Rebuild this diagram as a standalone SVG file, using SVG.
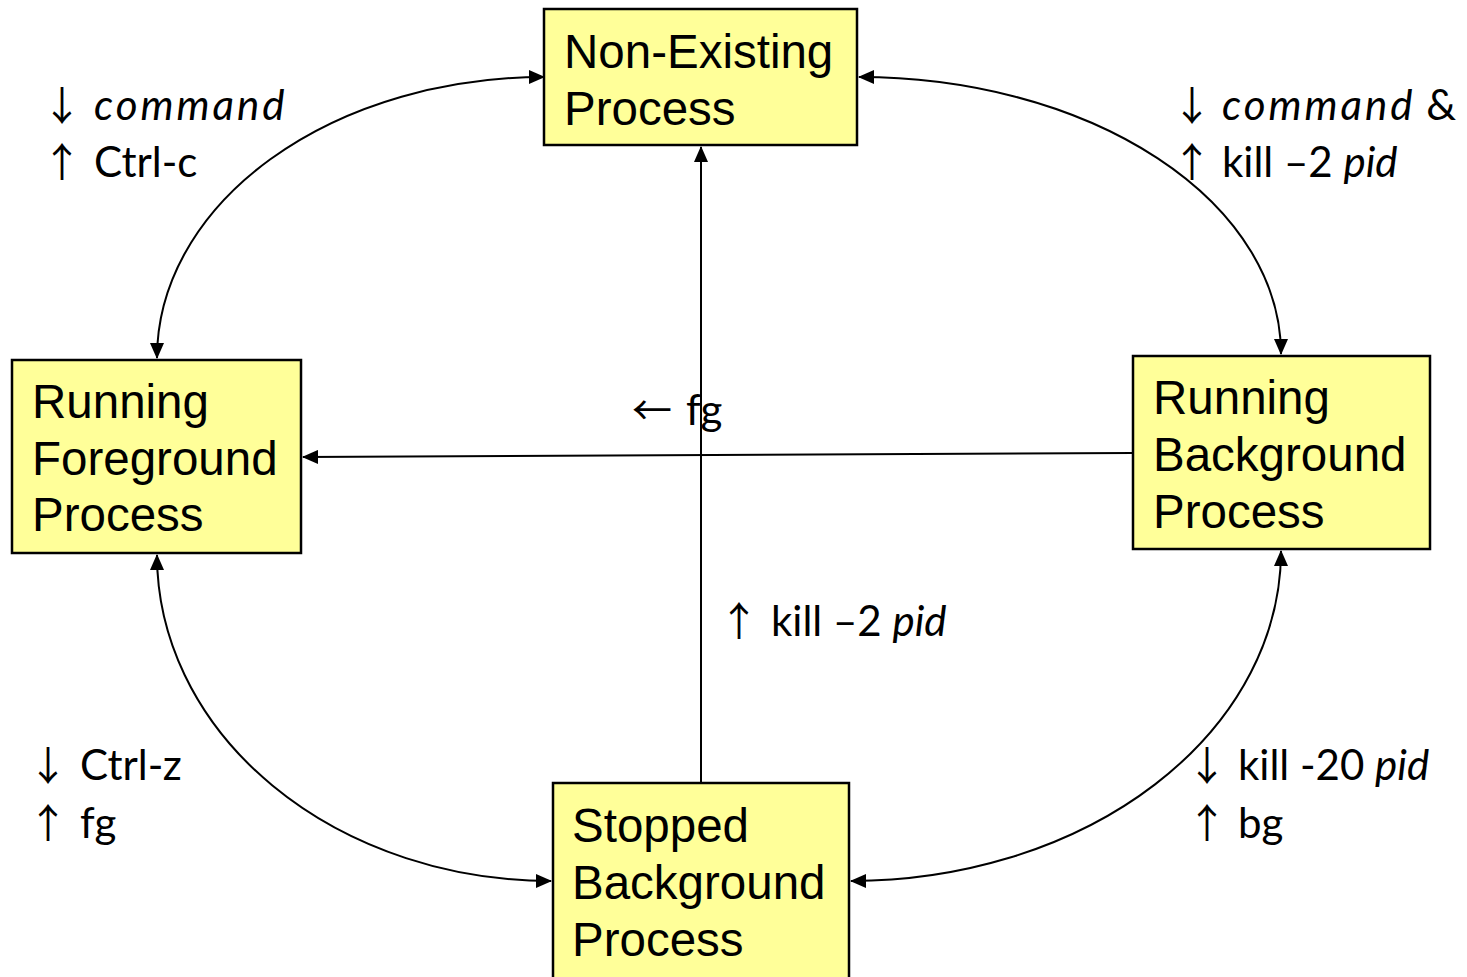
<svg xmlns="http://www.w3.org/2000/svg" width="1467" height="977" viewBox="0 0 1467 977">
<style>
.box{fill:#FFFF99;stroke:#000;stroke-width:2.5}
.bt{font-family:"Liberation Sans",Arial,sans-serif;font-size:47.5px;fill:#000}
.lb{font-family:Lato,"Open Sans",sans-serif;font-size:42px;fill:#000}
.ar{font-family:"Noto Sans CJK SC","DejaVu Sans",sans-serif;font-size:40px}
.it{font-style:italic}
.cm{letter-spacing:3px}
.con{fill:none;stroke:#000;stroke-width:2}
</style>
<defs>
<marker id="ah" markerUnits="userSpaceOnUse" markerWidth="16" markerHeight="14" refX="15" refY="7" orient="auto-start-reverse">
<path d="M0,0 L16,7 L0,14 Z" fill="#000"/>
</marker>
</defs>
<rect width="1467" height="977" fill="#fff"/>
<g id="connectors">
<path class="con" d="M544,77 A387,281 0 0 0 157,358" marker-start="url(#ah)" marker-end="url(#ah)"/>
<path class="con" d="M859,77 A422,277 0 0 1 1281,354" marker-start="url(#ah)" marker-end="url(#ah)"/>
<path class="con" d="M157,555 A394,326 0 0 0 551,881" marker-start="url(#ah)" marker-end="url(#ah)"/>
<path class="con" d="M1281,551 A430,330 0 0 1 851,881" marker-start="url(#ah)" marker-end="url(#ah)"/>
<path class="con" d="M701,783 L701,147" marker-end="url(#ah)"/>
<path class="con" d="M1133,453 L303,457" marker-end="url(#ah)"/>
</g>
<g id="non-existing">
<rect class="box" x="544" y="9" width="313" height="136"/>
<text class="bt" x="564" y="68">Non-Existing</text>
<text class="bt" x="564" y="125">Process</text>
</g>
<g id="running-foreground">
<rect class="box" x="12" y="360" width="289" height="193"/>
<text class="bt" x="32" y="418">Running</text>
<text class="bt" x="32" y="475">Foreground</text>
<text class="bt" x="32" y="531">Process</text>
</g>
<g id="running-background">
<rect class="box" x="1133" y="356" width="297" height="193"/>
<text class="bt" x="1153" y="414">Running</text>
<text class="bt" x="1153" y="471">Background</text>
<text class="bt" x="1153" y="528">Process</text>
</g>
<g id="stopped-background">
<rect class="box" x="553" y="783" width="296" height="196"/>
<text class="bt" x="572" y="842">Stopped</text>
<text class="bt" x="572" y="899">Background</text>
<text class="bt" x="572" y="956">Process</text>
</g>
<g id="labels">
<text class="lb" x="42" y="120"><tspan class="ar">↓</tspan><tspan x="94" class="it cm">command</tspan></text>
<text class="lb" x="42" y="177"><tspan class="ar">↑</tspan><tspan x="94">Ctrl-c</tspan></text>
<text class="lb" x="1172" y="120"><tspan class="ar">↓</tspan><tspan x="1222" class="it cm">command</tspan><tspan> &amp;</tspan></text>
<text class="lb" x="1172" y="177"><tspan class="ar">↑</tspan><tspan x="1222">kill –2 </tspan><tspan class="it">pid</tspan></text>
<text class="lb" x="632" y="425"><tspan class="ar">←</tspan><tspan x="686">fg</tspan></text>
<text class="lb" x="719" y="636"><tspan class="ar">↑</tspan><tspan x="771">kill –2 </tspan><tspan class="it">pid</tspan></text>
<text class="lb" x="28" y="780"><tspan class="ar">↓</tspan><tspan x="80">Ctrl-z</tspan></text>
<text class="lb" x="28" y="838"><tspan class="ar">↑</tspan><tspan x="80">fg</tspan></text>
<text class="lb" x="1187" y="780"><tspan class="ar">↓</tspan><tspan x="1238">kill -20 </tspan><tspan class="it">pid</tspan></text>
<text class="lb" x="1187" y="838"><tspan class="ar">↑</tspan><tspan x="1238">bg</tspan></text>
</g>
</svg>
